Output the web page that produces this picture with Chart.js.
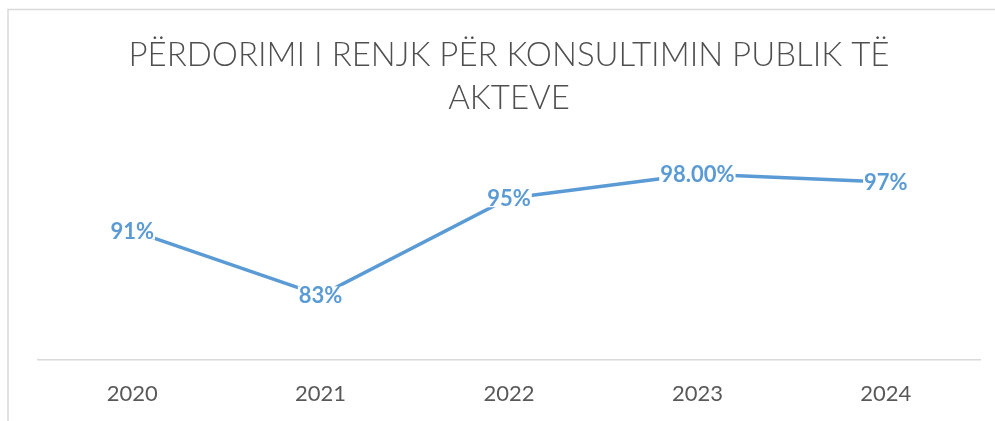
<!DOCTYPE html>
<html>
<head>
<meta charset="utf-8">
<script src="https://cdn.jsdelivr.net/npm/chart.js@4"></script>
<style>
  html, body { margin: 0; padding: 0; background: #fff; }
  #wrap { width: 995px; height: 421px; }
</style>
</head>
<body>
<div id="wrap"><canvas id="chart"></canvas></div>
<script>
const years = ["2020", "2021", "2022", "2023", "2024"]
const usage = [91, 83, 95, 98, 97]
const usageLabels = ["91%", "83%", "95%", "98.00%", "97%"]
const titleLines = ["PËRDORIMI I RENJK PËR KONSULTIMIN PUBLIK TË", "AKTEVE"]

const lineColor = "#5B9BD5"
const textGrey = "#595959"

// frame around the chart, cut off on the right and bottom like the original
const framePlugin = {
  id: "frame",
  beforeDraw(chart) {
    const ctx = chart.ctx
    ctx.save()
    ctx.strokeStyle = "#d9d9d9"
    ctx.lineWidth = 1.5
    ctx.strokeRect(8, 9.5, 1100, 600)
    ctx.restore()
  }
}

// value labels centred on each point, on a white box
const valueLabels = {
  id: "valueLabels",
  afterDatasetsDraw(chart) {
    const ctx = chart.ctx
    const meta = chart.getDatasetMeta(0)
    ctx.save()
    ctx.font = "bold 22px Lato"
    ctx.textAlign = "center"
    ctx.textBaseline = "middle"
    meta.data.forEach((pt, i) => {
      const txt = usageLabels[i]
      const w = ctx.measureText(txt).width
      ctx.fillStyle = "#fff"
      ctx.fillRect(pt.x - w / 2 - 1, pt.y - 9, w + 2, 18)
      ctx.fillStyle = lineColor
      ctx.fillText(txt, pt.x, pt.y + 1)
    })
    ctx.restore()
  }
}

new Chart(document.getElementById("chart"), {
  type: "line",
  data: {
    labels: years,
    datasets: [{
      label: "Përdorimi",
      data: usage,
      borderColor: lineColor,
      borderWidth: 3.5,
      pointRadius: 0,
      tension: 0,
      fill: false
    }]
  },
  options: {
    responsive: true,
    maintainAspectRatio: false,
    animation: false,
    layout: {
      padding: { left: 38, right: 15, top: 0, bottom: 12 }
    },
    plugins: {
      legend: { display: false },
      tooltip: { enabled: false },
      title: {
        display: true,
        text: titleLines,
        color: "#4f4f4f",
        font: { family: "Lato", size: 33, weight: "300", lineHeight: 1.3 },
        padding: { top: 34, bottom: 38 }
      }
    },
    scales: {
      x: {
        offset: true,
        grid: { display: false, drawTicks: false },
        border: { display: true, color: "#d9d9d9", width: 1.5 },
        ticks: {
          color: textGrey,
          padding: 21,
          font: { family: "Lato", size: 22 }
        },
        afterFit(scale) {
          scale.height = 49
        }
      },
      y: {
        display: false,
        min: 75,
        max: 100
      }
    }
  },
  plugins: [framePlugin, valueLabels]
})
</script>
</body>
</html>
